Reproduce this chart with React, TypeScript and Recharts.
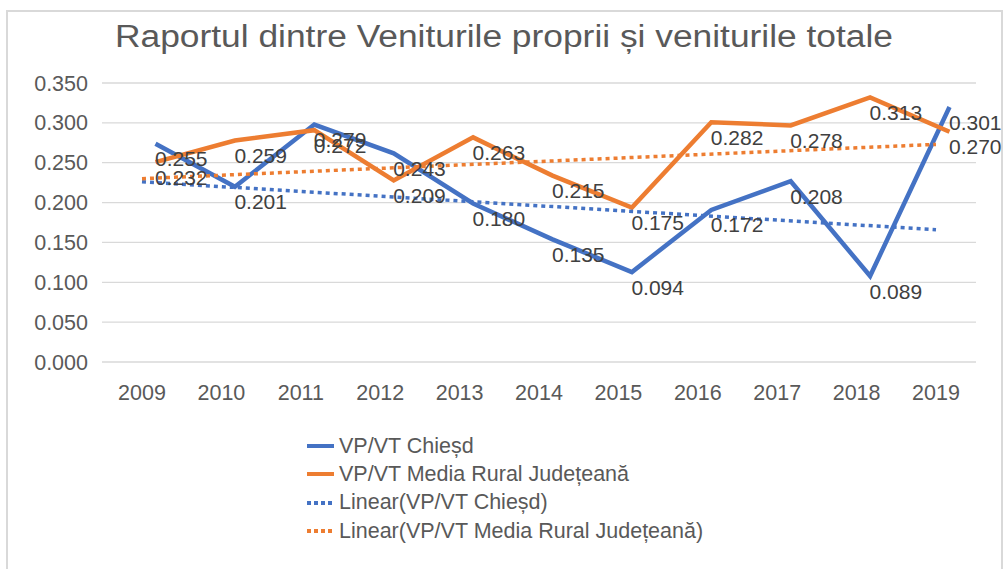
import React from 'react';
import { LineChart, Line, XAxis, YAxis, CartesianGrid, LabelList } from 'recharts';

const FONT = '"Liberation Sans", Arial, sans-serif';

const years = ['2009', '2010', '2011', '2012', '2013', '2014', '2015', '2016', '2017', '2018', '2019'];
const chiesd = [0.255, 0.201, 0.279, 0.243, 0.18, 0.135, 0.094, 0.172, 0.208, 0.089, 0.301];
const mediaRural = [0.232, 0.259, 0.272, 0.209, 0.263, 0.215, 0.175, 0.282, 0.278, 0.313, 0.27];
// trendline ends (first year, last year)
const chiesdTrend = [0.226, 0.166];
const mediaTrend = [0.23, 0.273];
const yTicks = [0, 0.05, 0.1, 0.15, 0.2, 0.25, 0.3, 0.35];

const seriesNames = [
  'VP/VT Chieșd',
  'VP/VT Media Rural Județeană',
  'Linear(VP/VT Chieșd)',
  'Linear(VP/VT Media Rural Județeană)',
];
const seriesColors = ['#4472C4', '#ED7D31', '#4472C4', '#ED7D31'];
const seriesDotted = [false, false, true, true];

const rows = years.map((year, i) => ({
  year,
  chiesd: chiesd[i],
  media: mediaRural[i],
  chiesdTrend: i === 0 ? chiesdTrend[0] : i === years.length - 1 ? chiesdTrend[1] : null,
  mediaTrend: i === 0 ? mediaTrend[0] : i === years.length - 1 ? mediaTrend[1] : null,
}));

const fmt = (v: any) => Number(v).toFixed(3);

const ChartLegend = () => (
  <div style={{ position: 'absolute', left: 307, top: 432, fontFamily: FONT, fontSize: 21.5, color: '#595959' }}>
    {seriesNames.map((name, i) => (
      <div key={name} style={{ display: 'flex', alignItems: 'center', height: 28.3, whiteSpace: 'nowrap' }}>
        <svg width={27} height={6} style={{ marginRight: 5 }}>
          <line
            x1={0}
            y1={3}
            x2={27}
            y2={3}
            stroke={seriesColors[i]}
            strokeWidth={4}
            strokeDasharray={seriesDotted[i] ? '4 3' : undefined}
          />
        </svg>
        <span>{name}</span>
      </div>
    ))}
  </div>
);

export default function App() {
  return (
    <div style={{ position: 'absolute', left: 0, top: 0, width: 1006, height: 569, overflow: 'hidden', background: '#fff' }}>
      <style>{`.shifted .recharts-line-curve { transform: translate(13.5px, -15px); }`}</style>
      <div
        style={{
          position: 'absolute',
          left: 6,
          top: 10,
          width: 993,
          height: 600,
          border: '2px solid #d9d9d9',
        }}
      />
      <div style={{ position: 'absolute', left: 0, top: 0 }}>
        <LineChart width={1006} height={569} data={rows} margin={{ top: 83, right: 30, left: 32, bottom: 167 }}>
          <text
            x={504}
            y={47}
            textAnchor="middle"
            fontFamily={FONT}
            fontSize={31}
            fill="#595959"
            textLength={778}
            lengthAdjust="spacingAndGlyphs"
          >
            Raportul dintre Veniturile proprii și veniturile totale
          </text>
          <CartesianGrid vertical={false} stroke="#d9d9d9" strokeWidth={1.3} />
          <XAxis
            dataKey="year"
            axisLine={false}
            tickLine={false}
            tickSize={0}
            tickMargin={23}
            height={40}
            interval={0}
            padding={{ left: 40, right: 40 }}
            tick={{ fill: '#595959', fontSize: 21.5, fontFamily: FONT }}
          />
          <YAxis
            domain={[0, 0.35]}
            ticks={yTicks}
            tickFormatter={fmt}
            axisLine={false}
            tickLine={false}
            tickSize={0}
            tickMargin={14}
            width={70}
            interval={0}
            tick={{ fill: '#595959', fontSize: 21.5, fontFamily: FONT }}
          />
          <Line
            className="shifted"
            dataKey="chiesd"
            name={seriesNames[0]}
            stroke={seriesColors[0]}
            strokeWidth={4.5}
            dot={false}
            activeDot={false}
            isAnimationActive={false}
          >
            <LabelList dataKey="chiesd" position="right" offset={13} formatter={fmt} fill="#404040" fontSize={21} fontFamily={FONT} />
          </Line>
          <Line
            className="shifted"
            dataKey="media"
            name={seriesNames[1]}
            stroke={seriesColors[1]}
            strokeWidth={4.5}
            dot={false}
            activeDot={false}
            isAnimationActive={false}
          >
            <LabelList dataKey="media" position="right" offset={13} formatter={fmt} fill="#404040" fontSize={21} fontFamily={FONT} />
          </Line>
          <Line
            dataKey="chiesdTrend"
            name={seriesNames[2]}
            stroke={seriesColors[2]}
            strokeWidth={3.5}
            strokeDasharray="4 4"
            connectNulls
            dot={false}
            activeDot={false}
            isAnimationActive={false}
          />
          <Line
            dataKey="mediaTrend"
            name={seriesNames[3]}
            stroke={seriesColors[3]}
            strokeWidth={3.5}
            strokeDasharray="4 4"
            connectNulls
            dot={false}
            activeDot={false}
            isAnimationActive={false}
          />
        </LineChart>
      </div>
      <ChartLegend />
    </div>
  );
}
